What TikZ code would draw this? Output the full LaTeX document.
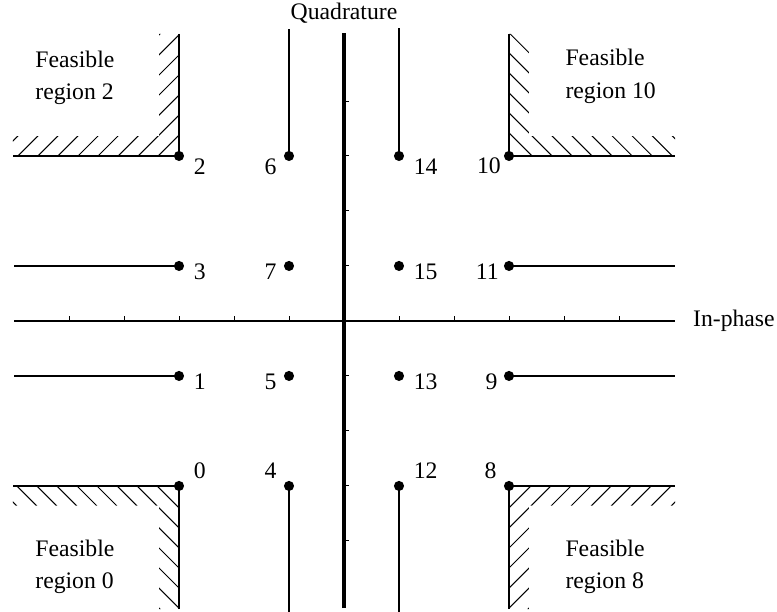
\documentclass[tikz,border=0pt]{standalone}
\usepackage{fontspec}
\setmainfont{Liberation Serif}
\usetikzlibrary{positioning, calc}

\begin{document}
\begin{tikzpicture}[
x=0.84cm, y=0.84cm, font=\fontsize{10.3}{14.3}\selectfont,
    dot/.style={circle, fill, inner sep=0pt, minimum size=4.4pt},
    num/.style={inner sep=0pt},
    region/.style={align=left, inner sep=0pt},
    axis/.style={draw, line width=1.5pt},
    bound/.style={draw, line width=0.6pt},
    hatch/.style={draw, line width=0.45pt},
    tickmark/.style={draw, line width=0.4pt}
]
    \useasboundingbox (-6.255,-5.291) rectangle (7.873,5.836);

    % Axes
    \coordinate (west) at (-6,0);
    \coordinate (east) at (6.02,0);
    \coordinate (south) at (0,-5.22);
    \coordinate (north) at (0,5.24);
    \draw[axis, line width=1.2pt] (west) -- (east);
    \draw[axis] (south) -- (north);
    \node[anchor=west] (inphase) at (6.2,0) {In-phase};
    \node (quad) at (0,5.6) {Quadrature};

    % Ticks
    \foreach \k in {-5,-4,-3,-2,-1,1,2,3,4,5}
        \draw[tickmark] (\k,0) -- (\k,0.09);
    \foreach \k in {-4,-3,-2,-1,1,2,3,4}
        \draw[tickmark] (0,\k) -- (0.09,\k);

    % Signal points
    \foreach \n/\x/\y in {0/-3/-3, 1/-3/-1, 2/-3/3, 3/-3/1, 4/-1/-3, 5/-1/-1, 6/-1/3, 7/-1/1,
                          8/3/-3, 9/3/-1, 10/3/3, 11/3/1, 12/1/-3, 13/1/-1, 14/1/3, 15/1/1}
        \node[dot] (p\n) at (\x,\y) {};

    % Point labels
    \foreach \n/\anc/\dx/\dy in {2/west/0.26/-0.2, 3/west/0.26/-0.1, 1/west/0.26/-0.1, 0/west/0.26/0.27,
                                 14/west/0.26/-0.2, 15/west/0.26/-0.1, 13/west/0.26/-0.1, 12/west/0.26/0.27,
                                 6/east/-0.22/-0.2, 7/east/-0.22/-0.1, 5/east/-0.22/-0.1, 4/east/-0.22/0.27,
                                 10/east/-0.14/-0.18, 11/east/-0.18/-0.1, 9/east/-0.2/-0.1, 8/east/-0.22/0.27}
        \node[num, anchor=\anc] (n\n) at ($(p\n)+(\dx,\dy)$) {\n};

    % Decision lines
    \coordinate (e6) at (-1,5.3);
    \coordinate (e14) at (1,5.33);
    \coordinate (e4) at (-1,-5.29);
    \coordinate (e12) at (1,-5.29);
    \coordinate (e3) at (-6,1);
    \coordinate (e1) at (-6,-1);
    \coordinate (e11) at (6.02,1);
    \coordinate (e9) at (6.02,-1);
    \foreach \n in {6,14,4,12,3,1,11,9}
        \draw[bound] (p\n.center) -- (e\n);

    % Feasible region boundaries
    \coordinate (a2) at (-3,5.22);  \coordinate (b2) at (-6.02,3);
    \coordinate (a10) at (3,5.22);  \coordinate (b10) at (6.02,3);
    \coordinate (a0) at (-3,-5.24); \coordinate (b0) at (-6.02,-3);
    \coordinate (a8) at (3,-5.24);  \coordinate (b8) at (6.02,-3);
    \foreach \n in {2,10,0,8}
        \draw[bound] (a\n) -- (p\n.center) -- (b\n);

    % Hatching
    \begin{scope}
        \clip (-6.02,3) -- (-3,3) -- (-3,5.22) -- (-3.36,5.22) -- (-3.36,3.36) -- (-6.02,3.36) -- cycle;
        \foreach \k [evaluate=\k as \c using -5.652-0.364*\k] in {0,...,12}
            \draw[hatch] ({2.8+\c},2.8) -- ({5.4+\c},5.4);
    \end{scope}
    \begin{scope}
        \clip (6.02,3) -- (3,3) -- (3,5.22) -- (3.36,5.22) -- (3.36,3.36) -- (6.02,3.36) -- cycle;
        \foreach \k [evaluate=\k as \c using 9.332-0.364*\k] in {0,...,11}
            \draw[hatch] ({\c-2.8},2.8) -- ({\c-5.4},5.4);
    \end{scope}
    \begin{scope}
        \clip (-6.02,-3) -- (-3,-3) -- (-3,-5.24) -- (-3.36,-5.24) -- (-3.36,-3.36) -- (-6.02,-3.36) -- cycle;
        \foreach \k [evaluate=\k as \c using -9.676+0.364*\k] in {0,...,12}
            \draw[hatch] ({\c+2.8},-2.8) -- ({\c+5.5},-5.5);
    \end{scope}
    \begin{scope}
        \clip (6.02,-3) -- (3,-3) -- (3,-5.24) -- (3.36,-5.24) -- (3.36,-3.36) -- (6.02,-3.36) -- cycle;
        \foreach \k [evaluate=\k as \c using 9.676-0.364*\k] in {0,...,12}
            \draw[hatch] ({\c-2.8},-2.8) -- ({\c-5.5},-5.5);
    \end{scope}

    % Region labels
    \node[region, anchor=west] (fr2) at (-5.62,4.42) {Feasible\\region 2};
    \node[region, anchor=west] (fr10) at (4.02,4.44) {Feasible\\region 10};
    \node[region, anchor=west] (fr0) at (-5.62,-4.47) {Feasible\\region 0};
    \node[region, anchor=west] (fr8) at (4.02,-4.47) {Feasible\\region 8};

\end{tikzpicture}
\end{document}
